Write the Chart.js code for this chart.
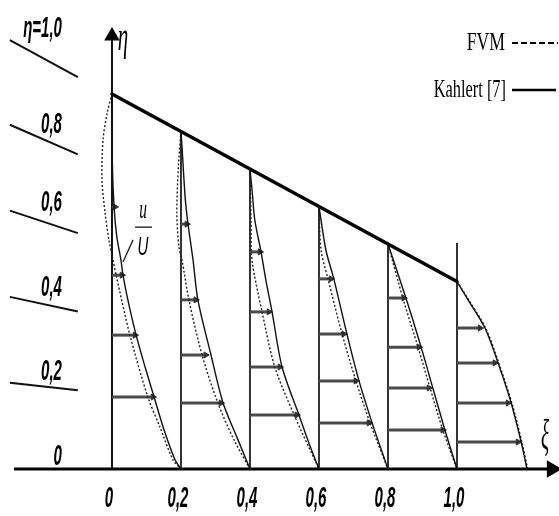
<!DOCTYPE html>
<html>
<head>
<meta charset="utf-8">
<script src="https://cdn.jsdelivr.net/npm/chart.js@4.4.1/dist/chart.umd.min.js"></script>
<style>
  html, body { margin: 0; padding: 0; background: #ffffff; }
  #wrap { width: 559px; height: 516px; }
</style>
</head>
<body>
<div id="wrap"><canvas id="c" width="559" height="516"></canvas></div>
<script>
// ---------------- data ----------------
const xTickValues = [0, 0.2, 0.4, 0.6, 0.8, 1.0];
const xTickLabels = ['0', '0,2', '0,4', '0,6', '0,8', '1,0'];

const etaLevelLabels = ['η=1,0', '0,8', '0,6', '0,4', '0,2', '0'];
const etaLabelBaseline = [1.152, 0.896, 0.688, 0.461, 0.237, 0.011];
const etaLineStartY = [1.144, 0.918, 0.689, 0.459, 0.230];
const etaLineEndY   = [1.045, 0.839, 0.629, 0.420, 0.210];
const etaLineStartX = -0.296, etaLineEndX = -0.099;

const seriesNames = ['FVM', 'Kahlert [7]'];

// channel upper wall
const wallXi  = [0, 1.0];
const wallEta = [1.0, 0.5];

// vertical station lines (station 0 is the η axis)
const stationXi  = [0.2, 0.4, 0.6, 0.8, 1.0];
const stationTop = [0.901, 0.803, 0.701, 0.603, 0.603];
const etaAxisTop = 1.155;
const xiAxisStart = -0.284, xiAxisEnd = 1.275;

// Kahlert [7] profiles (solid)
const kahlertXi = [
  [0, 0.001, 0.006, 0.014, 0.026, 0.032, 0.046, 0.070, 0.096, 0.122, 0.151, 0.183, 0.2],
  [0.2, 0.203, 0.212, 0.220, 0.235, 0.249, 0.287, 0.322, 0.362, 0.4],
  [0.4, 0.406, 0.414, 0.432, 0.446, 0.464, 0.493, 0.542, 0.571, 0.6],
  [0.6, 0.620, 0.643, 0.681, 0.716, 0.754, 0.8],
  [0.8, 0.852, 0.896, 0.930, 0.965, 1.0],
  [1.0, 1.032, 1.081, 1.119, 1.157, 1.186, 1.203]
];
const kahlertEta = [
  [1.0, 0.816, 0.699, 0.619, 0.557, 0.517, 0.451, 0.357, 0.272, 0.192, 0.104, 0.024, 0],
  [0.9, 0.859, 0.725, 0.656, 0.557, 0.451, 0.304, 0.176, 0.085, 0],
  [0.8, 0.744, 0.664, 0.579, 0.504, 0.419, 0.272, 0.144, 0.069, 0],
  [0.7, 0.584, 0.507, 0.360, 0.235, 0.123, 0],
  [0.6, 0.456, 0.325, 0.216, 0.104, 0],
  [0.5, 0.451, 0.376, 0.283, 0.176, 0.072, 0]
];

// FVM profiles (dotted)
const fvmXi = [
  [0, -0.014, -0.026, -0.029, -0.020, -0.009, 0.003, 0.012, 0.052, 0.104, 0.139, 0.177, 0.2],
  [0.2, 0.193, 0.188, 0.194, 0.203, 0.223, 0.261, 0.307, 0.354, 0.4],
  [0.4, 0.403, 0.406, 0.435, 0.472, 0.528, 0.6],
  [0.6, 0.606, 0.626, 0.667, 0.707, 0.748, 0.8],
  [0.8, 0.843, 0.887, 0.922, 0.959, 1.0],
  [1.0, 1.034, 1.083, 1.121, 1.159, 1.188, 1.205]
];
const fvmEta = [
  [1.0, 0.949, 0.877, 0.771, 0.683, 0.611, 0.557, 0.517, 0.357, 0.192, 0.112, 0.024, 0],
  [0.9, 0.816, 0.683, 0.592, 0.557, 0.451, 0.304, 0.176, 0.077, 0],
  [0.8, 0.664, 0.557, 0.419, 0.272, 0.144, 0],
  [0.7, 0.584, 0.507, 0.360, 0.235, 0.123, 0],
  [0.6, 0.456, 0.325, 0.216, 0.104, 0],
  [0.5, 0.451, 0.376, 0.283, 0.176, 0.072, 0]
];

// velocity arrows u/U: start at station, tip at profile
const arrowStation = [0, 0.2, 0.4, 0.6, 0.8, 1.0];
const arrowEta = [
  [0.699, 0.517, 0.357, 0.192],
  [0.653, 0.451, 0.304, 0.176],
  [0.579, 0.419, 0.272, 0.144],
  [0.507, 0.360, 0.235, 0.123],
  [0.456, 0.325, 0.216, 0.104],
  [0.376, 0.283, 0.176, 0.072]
];
const arrowTip = [
  [0.009, 0.029, 0.067, 0.119],
  [0.217, 0.243, 0.272, 0.316],
  [0.429, 0.455, 0.487, 0.536],
  [0.635, 0.672, 0.707, 0.745],
  [0.846, 0.890, 0.919, 0.959],
  [1.067, 1.110, 1.148, 1.177]
];

// leader line of the u/U label
const leaderXi = [0.061, 0.032];
const leaderEta = [0.611, 0.552];

// ---------------- build datasets ----------------
function pts(xs, ys) { return xs.map((x, i) => ({ x: x, y: ys[i] })); }
function lineDs(xs, ys, style) {
  return Object.assign({
    data: pts(xs, ys), showLine: true, pointRadius: 0, pointHoverRadius: 0,
    fill: false, tension: 0, borderCapStyle: 'butt'
  }, style);
}

const datasets = [];

// profiles on top
kahlertXi.forEach((xs, i) => datasets.push(lineDs(xs, kahlertEta[i], {
  label: seriesNames[1], borderColor: '#111', borderWidth: 1.4, tension: 0.3
})));
fvmXi.forEach((xs, i) => datasets.push(lineDs(xs, fvmEta[i], {
  label: seriesNames[0], borderColor: '#222', borderWidth: 1.4, borderDash: [2, 2], tension: 0.3
})));

// arrows
arrowStation.forEach((s, i) => {
  arrowEta[i].forEach((e, j) => {
    datasets.push(lineDs([s, arrowTip[i][j]], [e, e], {
      borderColor: '#4a4a4a', borderWidth: 3,
      pointRadius: (c) => c.dataIndex === 1 ? 3.5 : 0,
      pointStyle: 'triangle', rotation: 90,
      pointBackgroundColor: '#333', pointBorderColor: '#333', pointBorderWidth: 1
    }));
  });
});

// upper wall
datasets.push(lineDs(wallXi, wallEta, { borderColor: '#000', borderWidth: 3.5, borderCapStyle: 'round' }));

// station lines
stationXi.forEach((s, i) => datasets.push(lineDs([s, s], [0, stationTop[i]], {
  borderColor: '#333', borderWidth: 2
})));

// η axis with arrow
datasets.push(lineDs([0, 0], [0, etaAxisTop], {
  borderColor: '#111', borderWidth: 2,
  pointRadius: (c) => c.dataIndex === 1 ? 7 : 0,
  pointStyle: 'triangle', rotation: 0,
  pointBackgroundColor: '#000', pointBorderColor: '#000'
}));

// ξ axis with arrow
datasets.push(lineDs([xiAxisStart, xiAxisEnd], [0, 0], {
  borderColor: '#000', borderWidth: 3,
  pointRadius: (c) => c.dataIndex === 1 ? 7 : 0,
  pointStyle: 'triangle', rotation: 90,
  pointBackgroundColor: '#000', pointBorderColor: '#000'
}));

// η level lines on the left
etaLineStartY.forEach((y0, i) => datasets.push(lineDs([etaLineStartX, etaLineEndX], [y0, etaLineEndY[i]], {
  borderColor: '#111', borderWidth: 2
})));

// leader line
datasets.push(lineDs(leaderXi, leaderEta, { borderColor: '#222', borderWidth: 1.3 }));

// ---------------- text plugin ----------------
function txt(ctx, s, px, py, font, sx, align) {
  ctx.save();
  ctx.translate(px, py);
  ctx.scale(sx, 1);
  ctx.font = font;
  ctx.textAlign = align;
  ctx.textBaseline = 'alphabetic';
  ctx.fillStyle = '#000';
  ctx.fillText(s, 0, 0);
  ctx.restore();
}

const textPlugin = {
  id: 'texts',
  afterDatasetsDraw(chart) {
    const ctx = chart.ctx;
    const X = (v) => chart.scales.x.getPixelForValue(v);
    const Y = (v) => chart.scales.y.getPixelForValue(v);
    const tickFont = 'italic bold 30px "Liberation Sans", Arial, sans-serif';

    // ξ tick labels
    xTickValues.forEach((v, i) => {
      txt(ctx, xTickLabels[i], X(v) - 3, Y(-0.101), tickFont, 0.5, 'center');
    });

    // η level labels
    etaLevelLabels.forEach((s, i) => {
      txt(ctx, s, X(-0.145), Y(etaLabelBaseline[i]), tickFont, 0.5, 'right');
    });

    // axis symbols
    txt(ctx, 'η', X(0.032), Y(1.117), 'italic 42px "Liberation Serif", serif', 0.5, 'center');
    txt(ctx, 'ξ', X(1.255), Y(0.053), 'italic 42px "Liberation Serif", serif', 0.45, 'center');

    // u / U label
    txt(ctx, 'u', X(0.090), Y(0.669), 'italic 28px "Liberation Serif", serif', 0.55, 'center');
    ctx.save();
    ctx.strokeStyle = '#000'; ctx.lineWidth = 1.2;
    ctx.beginPath(); ctx.moveTo(X(0.067), Y(0.645)); ctx.lineTo(X(0.116), Y(0.645)); ctx.stroke();
    ctx.restore();
    txt(ctx, 'U', X(0.090), Y(0.571), 'italic 25px "Liberation Sans", Arial, sans-serif', 0.6, 'center');

    // legend
    const legFont = '26px "Liberation Serif", "Times New Roman", serif';
    txt(ctx, seriesNames[0], 505, 50, legFont, 0.68, 'right');
    txt(ctx, seriesNames[1], 506, 97, legFont, 0.63, 'right');
    ctx.save();
    ctx.strokeStyle = '#000';
    ctx.lineWidth = 2;
    ctx.setLineDash([6, 3]);
    ctx.beginPath(); ctx.moveTo(512, 43); ctx.lineTo(558, 43); ctx.stroke();
    ctx.setLineDash([]);
    ctx.lineWidth = 2.5;
    ctx.beginPath(); ctx.moveTo(512, 90); ctx.lineTo(556, 90); ctx.stroke();
    ctx.restore();
  }
};

new Chart(document.getElementById('c'), {
  type: 'scatter',
  data: { datasets: datasets },
  options: {
    responsive: false,
    animation: false,
    events: [],
    devicePixelRatio: 1,
    layout: { padding: 0, autoPadding: false },
    plugins: { legend: { display: false }, tooltip: { enabled: false } },
    scales: {
      x: { type: 'linear', min: -0.3246, max: 1.2957, display: false },
      y: { type: 'linear', min: -0.1253, max: 1.2507, display: false }
    }
  },
  plugins: [textPlugin]
});
</script>
</body>
</html>
